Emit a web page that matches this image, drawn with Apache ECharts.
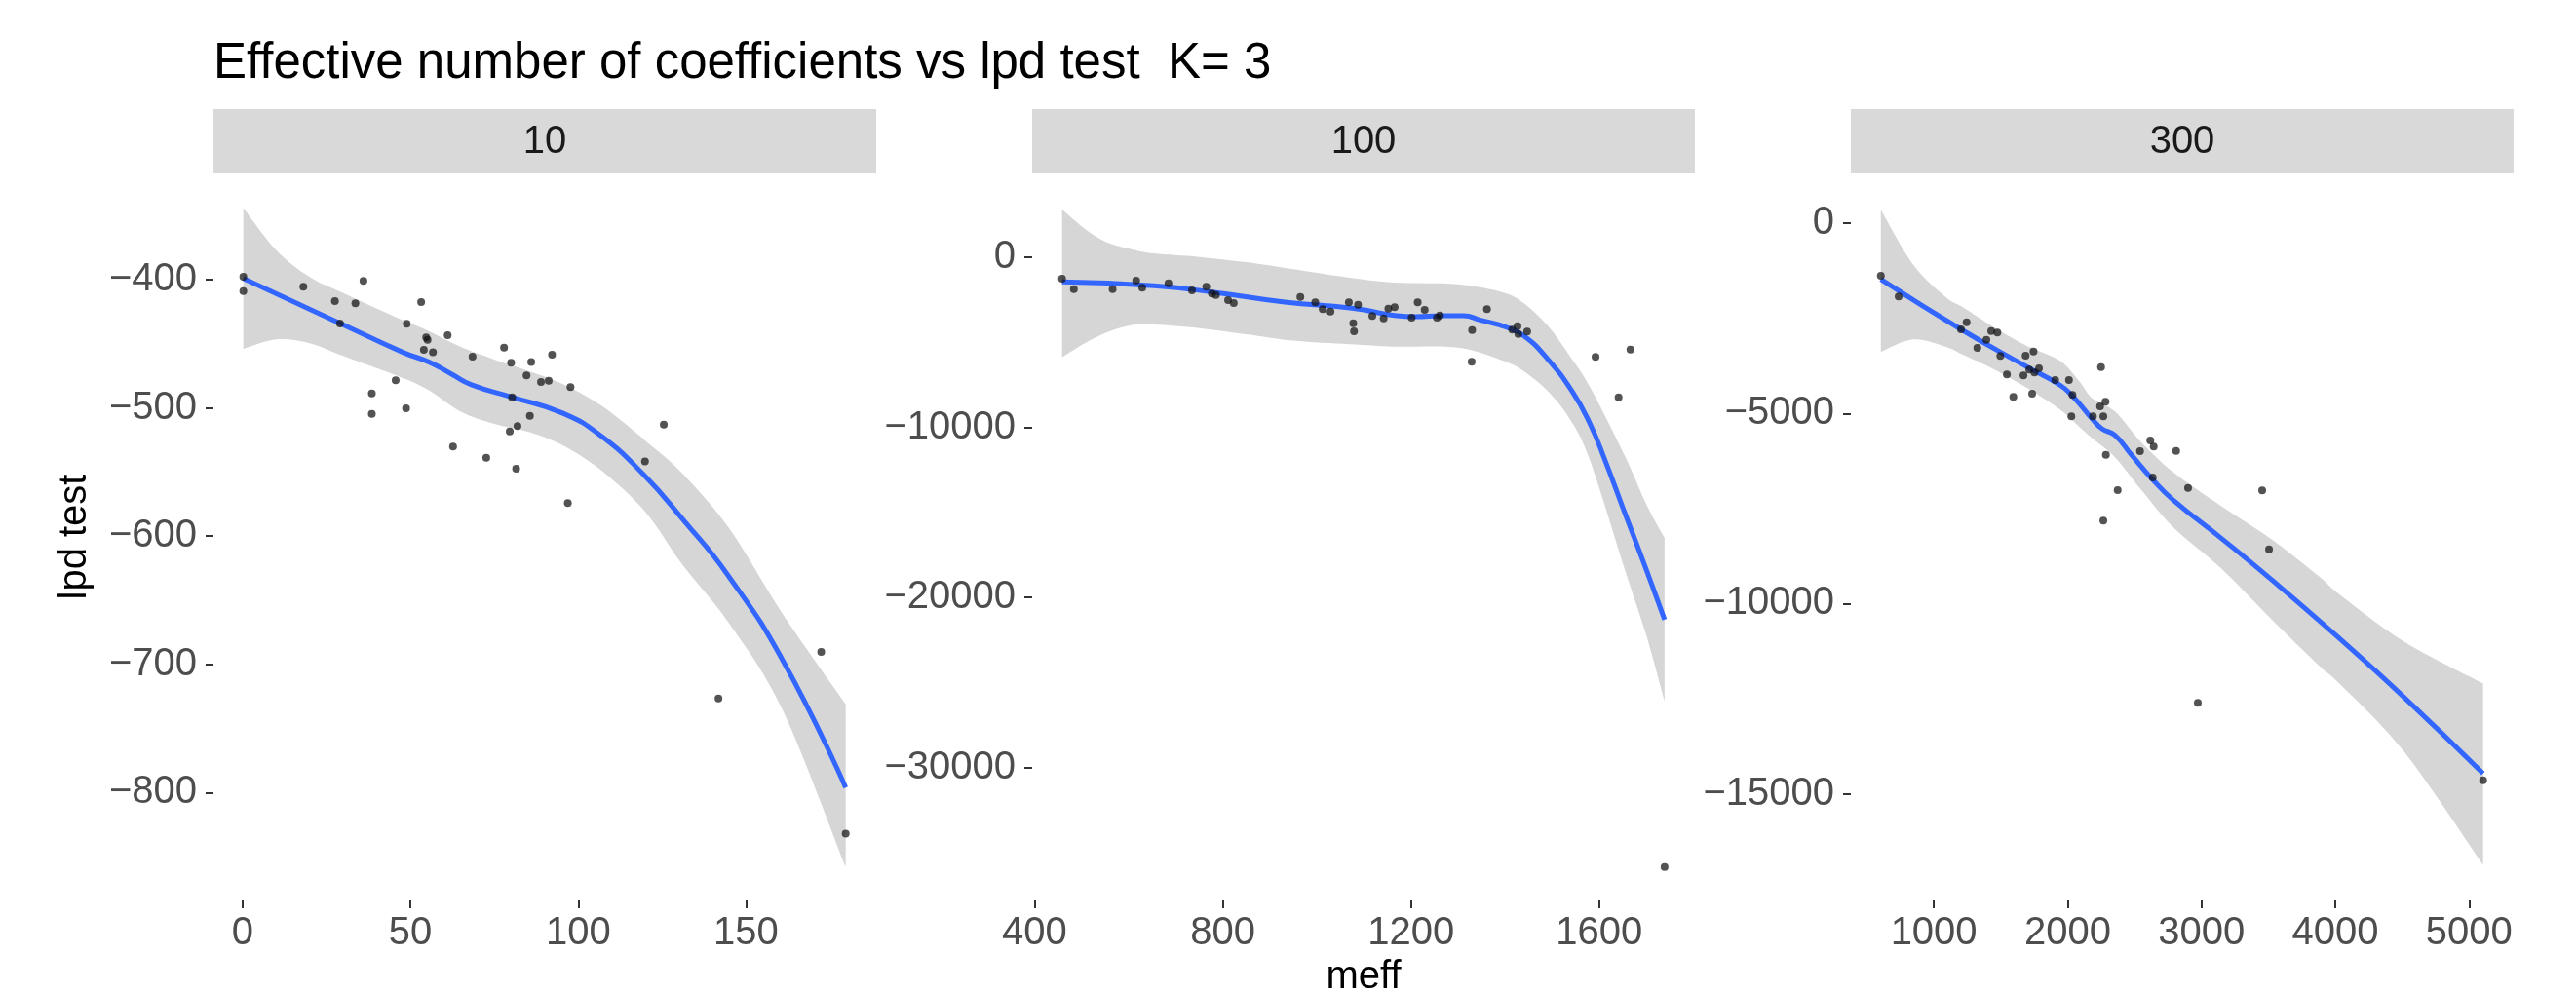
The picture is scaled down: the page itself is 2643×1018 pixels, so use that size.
<!DOCTYPE html>
<html>
<head>
<meta charset="utf-8">
<script src="https://cdn.jsdelivr.net/npm/echarts@6.0.0/dist/echarts.min.js"></script>
<style>
  html, body { margin: 0; padding: 0; background: #fff; }
  #root { width: 2643px; height: 1018px; }
</style>
</head>
<body>
<div id="root"></div>
<script>
// facet labels
const panels = ['10', '100', '300'];

// tick labels
const xTicks10 = [0, 50, 100, 150];
const yTicks10 = [-800, -700, -600, -500, -400];
const xTicks100 = [400, 800, 1200, 1600];
const yTicks100 = [-30000, -20000, -10000, 0];
const xTicks300 = [1000, 2000, 3000, 4000, 5000];
const yTicks300 = [-15000, -10000, -5000, 0];

// panel 10: points
const pts10X = [0.2, 0.2, 18.1, 36.0, 27.5, 33.6, 29.0, 53.2, 48.9, 54.7, 55.1, 54.0, 56.7, 61.1, 68.5, 77.9, 80.0, 86.0, 92.2, 84.6,
  88.9, 91.2, 97.7, 80.3, 45.6, 38.5, 38.5, 48.7, 85.6, 81.9, 79.6, 62.7, 72.6, 81.5, 96.9, 119.9, 125.5, 141.8, 172.4, 179.7];
const pts10Y = [-397.7, -409, -405.6, -401, -416.7, -418.5, -434.2, -417.5, -434.4, -445, -446.9, -454.7, -456.7, -443.3, -460, -453, -464.8, -464.3, -458.5, -474.7,
  -479.8, -478.8, -483.8, -491.7, -478.5, -488.7, -504.6, -500.3, -506.2, -514.2, -518.3, -530.2, -538.8, -547.4, -574.2, -541.8, -513, -726.5, -690.3, -832];
// panel 10: smooth + band
const fit10X = [0.2, 29, 47.8, 55.6, 62.3, 68.2, 80.3, 95.3, 106.9, 119.5, 131.2, 144.5, 161.2, 179.7];
const fit10Y = [-399, -434, -456.7, -464.3, -473.7, -482, -491.7, -504, -522, -552, -587, -630, -698, -796];
const band10X = [0.2, 10, 20, 30, 45, 55, 65, 75, 85, 95, 107, 120, 131, 145, 161, 179.7];
const band10Lo = [-454, -446.6, -449.5, -459.5, -474, -485.5, -503, -512.5, -518.5, -528.7, -549, -581, -622, -668, -736, -858];
const band10Hi = [-344, -377, -398, -410.5, -428.5, -439.5, -452.5, -462.3, -471, -481, -498.5, -525.5, -551, -594, -661, -731];

// panel 100: points
const pts100X = [458.5, 483.6, 566, 616, 629, 684.6, 734.6, 765, 777, 785.5, 811.4, 823.4, 965, 996.7, 1012.5, 1029, 1068, 1087.5, 1077.4, 1079,
  1118, 1142, 1152, 1165.3, 1201.5, 1214.3, 1229.2, 1255.2, 1261.6, 1330, 1329, 1361.6, 1415.3, 1426.5, 1428.2, 1447, 1592.3, 1666.4, 1641.3, 1739];
const pts100Y = [-1260, -1872, -1872, -1374, -1795, -1527, -1947, -1737, -2138, -2214, -2520, -2692, -2329, -2654, -3054, -3188, -2654, -2787, -3875, -4353,
  -3456, -3590, -3016, -2940, -3551, -2654, -3093, -3551, -3418, -4276, -6147, -3054, -4257, -4047, -4505, -4372, -5861, -5421, -8228, -35842];
// panel 100: smooth + band
const fit100X = [458.5, 654, 793, 932, 1070.8, 1209.8, 1265, 1311.6, 1348.7, 1404, 1441, 1487.5, 1543, 1580, 1612.7, 1650, 1700, 1739];
const fit100Y = [-1450, -1680, -2100, -2634, -2978, -3493, -3436, -3436, -3704, -4123, -4639, -5880, -7900, -9750, -11950, -14700, -18350, -21300];
const band100X = [458.5, 515, 560, 610, 654, 750, 850, 950, 1070, 1165, 1300, 1395, 1440, 1490, 1535, 1580, 1655, 1700, 1739];
const band100Lo = [-5880, -4925, -4350, -3970, -3950, -4160, -4520, -4900, -5115, -5250, -5310, -6070, -6700, -7850, -9400, -11900, -18400, -22200, -26100];
const band100Hi = [2800, 1500, 810, 450, 229, 20, -290, -700, -1200, -1490, -1585, -2060, -2700, -4000, -5700, -7600, -11700, -14500, -16500];

// panel 300: points
const pts300X = [604, 737, 1203, 1245, 1325, 1393, 1429, 1475, 1497, 1546, 1594, 1686, 1745, 1670, 1713, 1752, 1786, 1735, 1907, 2010,
  2036, 2028, 2189, 2250, 2243, 2283, 2267, 2286, 2374, 2267, 2541, 2618, 2643, 2636, 2811, 2900, 3454, 3505, 2973, 5105];
const pts300Y = [-1379, -1925, -2788, -2601, -3275, -3062, -2832, -2873, -3488, -3975, -4564, -3480, -3370, -4001, -3847, -3924, -3813, -4480, -4121, -4121,
  -4514, -5077, -5077, -3780, -4813, -4693, -5077, -6087, -7017, -7819, -5992, -5710, -5872, -6684, -5984, -6958, -7025, -8573, -12612, -14649];
// panel 300: smooth + band
const fit300X = [604, 1203, 1699, 1941, 2039, 2184, 2257, 2354, 2476, 2633, 2791, 3155, 3520, 4029, 4515, 5105];
const fit300Y = [-1473, -2788, -3779, -4249, -4549, -5146, -5402, -5574, -6087, -6727, -7281, -8300, -9360, -10910, -12465, -14470];
const band300X = [604, 848, 1092, 1214, 1456, 1699, 1941, 2087, 2184, 2354, 2548, 2791, 3155, 3520, 3884, 4029, 4515, 5105];
const band300Lo = [-3378, -3050, -3250, -3450, -3850, -4330, -4890, -5350, -5650, -6150, -7000, -8000, -9100, -10400, -11650, -12100, -13900, -16870];
const band300Hi = [356, -1100, -1950, -2200, -2750, -3230, -3608, -4150, -4600, -4950, -5750, -6550, -7450, -8300, -9300, -9750, -11000, -12100];

// axis ranges (ggplot 5% expansion)
const xRange = [[-8.7, 188.8], [395, 1803.5], [380, 5333]];
const yRange = [[-884, -317.2], [-37800, 4925], [-17806, 1312]];

const fam = '"Liberation Sans", Arial, Helvetica, sans-serif';
const gridLeft = [219, 1059, 1899];
const panelW = 680;
const panelTop = 178;
const panelH = 746;

const zip = (xs, ys) => xs.map((x, i) => [x, ys[i]]);
const fmt = v => String(v).replace('-', '\u2212');

const xTicks = [xTicks10, xTicks100, xTicks300];
const yTicks = [yTicks10, yTicks100, yTicks300];
const pts = [[pts10X, pts10Y], [pts100X, pts100Y], [pts300X, pts300Y]];
const fits = [[fit10X, fit10Y], [fit100X, fit100Y], [fit300X, fit300Y]];
const bands = [[band10X, band10Lo, band10Hi], [band100X, band100Lo, band100Hi], [band300X, band300Lo, band300Hi]];

// smooth curve through screen points (Catmull-Rom as cubic beziers)
function curveTo(p) {
  let d = '';
  for (let i = 0; i < p.length - 1; i++) {
    const p0 = p[i - 1] || p[i], p1 = p[i], p2 = p[i + 1], p3 = p[i + 2] || p[i + 1];
    const c1 = [p1[0] + (p2[0] - p0[0]) / 6, p1[1] + (p2[1] - p0[1]) / 6];
    const c2 = [p2[0] - (p3[0] - p1[0]) / 6, p2[1] - (p3[1] - p1[1]) / 6];
    d += 'C' + c1.join(' ') + ' ' + c2.join(' ') + ' ' + p2.join(' ');
  }
  return d;
}

const grid = [], xAxis = [], yAxis = [], series = [], graphic = [];

panels.forEach((p, i) => {
  grid.push({ left: gridLeft[i], top: panelTop, width: panelW, height: panelH, containLabel: false, outerBoundsMode: 'none' });
  xAxis.push({
    gridIndex: i, type: 'value', min: xRange[i][0], max: xRange[i][1],
    splitLine: { show: false },
    axisLine: { show: false, onZero: false },
    axisTick: { show: true, length: 8, lineStyle: { color: '#333', width: 2 }, customValues: xTicks[i] },
    axisLabel: { customValues: xTicks[i], fontSize: 40, color: '#4d4d4d', fontFamily: fam, margin: 14, formatter: fmt },
    name: i === 1 ? 'meff' : '',
    nameLocation: 'middle', nameGap: 54,
    nameTextStyle: { fontSize: 40, color: '#000', fontFamily: fam }
  });
  yAxis.push({
    gridIndex: i, type: 'value', min: yRange[i][0], max: yRange[i][1],
    splitLine: { show: false },
    axisLine: { show: false, onZero: false },
    axisTick: { show: true, length: 8, lineStyle: { color: '#333', width: 2 }, customValues: yTicks[i] },
    axisLabel: { customValues: yTicks[i], fontSize: 40, color: '#4d4d4d', fontFamily: fam, margin: 17, formatter: fmt }
  });

  const [bx, lo, hi] = bands[i];
  series.push({
    type: 'custom', xAxisIndex: i, yAxisIndex: i, clip: true, silent: true, z: 1,
    data: bx.map((x, k) => [x, lo[k], hi[k]]),
    encode: { x: 0, y: [1, 2] },
    renderItem: function (params, api) {
      if (params.dataIndex !== 0) return null;
      const up = bx.map((x, k) => api.coord([x, hi[k]]));
      const dn = bx.map((x, k) => api.coord([x, lo[k]])).reverse();
      const d = 'M' + up[0].join(' ') + curveTo(up) + 'L' + dn[0].join(' ') + curveTo(dn) + 'Z';
      return { type: 'path', shape: { pathData: d }, style: { fill: '#d6d6d6' }, silent: true };
    }
  });
  series.push({
    type: 'line', xAxisIndex: i, yAxisIndex: i, data: zip(fits[i][0], fits[i][1]),
    smooth: 0.5, symbol: 'none', lineStyle: { color: '#3366ff', width: 5 }, silent: true, z: 2
  });
  series.push({
    type: 'scatter', xAxisIndex: i, yAxisIndex: i, data: zip(pts[i][0], pts[i][1]),
    symbolSize: 8, itemStyle: { color: 'rgba(17,17,17,0.9)' }, silent: true, z: 3
  });

  graphic.push({
    type: 'rect', shape: { x: gridLeft[i], y: 112, width: panelW, height: 66 },
    style: { fill: '#d9d9d9' }, silent: true
  });
  graphic.push({
    type: 'text', x: gridLeft[i] + panelW / 2, y: 146,
    style: { text: p, fontSize: 40, fontFamily: fam, fill: '#1a1a1a', align: 'center', verticalAlign: 'middle' },
    silent: true
  });
});

graphic.push({
  type: 'text', x: 77, y: 551, rotation: Math.PI / 2,
  style: { text: 'lpd test', fontSize: 40, fontFamily: fam, fill: '#000', align: 'center', verticalAlign: 'middle' },
  silent: true
});

const chart = echarts.init(document.getElementById('root'), null, { renderer: 'canvas' });
chart.setOption({
  animation: false,
  backgroundColor: '#fff',
  title: {
    text: 'Effective number of coefficients vs lpd test  K= 3',
    left: 219, top: 40, padding: 0,
    textStyle: { fontSize: 51, fontWeight: 'normal', color: '#000', fontFamily: fam }
  },
  grid, xAxis, yAxis, series, graphic
});
</script>
</body>
</html>
